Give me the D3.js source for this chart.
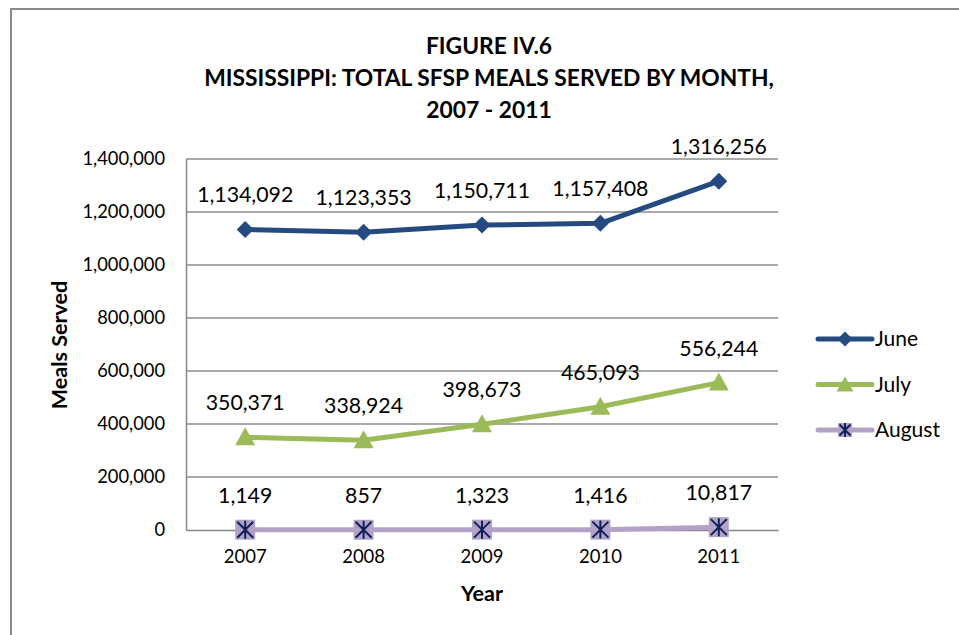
<!DOCTYPE html>
<html>
<head>
<meta charset="utf-8">
<script src="https://cdn.jsdelivr.net/npm/d3@7"></script>
<style>
  html, body { margin: 0; padding: 0; background: #fff; }
  svg { display: block; font-family: Lato, "Open Sans", sans-serif; }
</style>
</head>
<body>
<svg id="chart" width="959" height="635"></svg>
<script>
// Summer Food Service Program meals served in Mississippi
const years = ["2007", "2008", "2009", "2010", "2011"];
const juneMeals = [1134092, 1123353, 1150711, 1157408, 1316256];
const julyMeals = [350371, 338924, 398673, 465093, 556244];
const augustMeals = [1149, 857, 1323, 1416, 10817];
const yTicks = [0, 200000, 400000, 600000, 800000, 1000000, 1200000, 1400000];
const titleLines = ["FIGURE IV.6", "MISSISSIPPI: TOTAL SFSP MEALS SERVED BY MONTH,", "2007 - 2011"];

const series = [
  { name: "June", values: juneMeals, color: "#254A80", marker: "diamond" },
  { name: "July", values: julyMeals, color: "#9BBB59", marker: "triangle" },
  { name: "August", values: augustMeals, color: "#B3A2C7", marker: "asterisk" }
];

const svg = d3.select("#chart");
const fmt = d3.format(",");

// outer frame
svg.append("path")
  .attr("d", "M11,640 V9 H959")
  .attr("fill", "none")
  .attr("stroke", "#8a8a8a")
  .attr("stroke-width", 2);

// title
svg.append("g").selectAll("text").data(titleLines).join("text")
  .attr("x", 489)
  .attr("y", (d, i) => 54 + i * 32)
  .attr("text-anchor", "middle")
  .attr("font-size", 22.8)
  .attr("font-weight", "bold")
  .attr("fill", "#000")
  .text(d => d);

const plot = { left: 186, right: 778, top: 159, bottom: 530 };

const x = d3.scaleBand().domain(years).range([plot.left, plot.right]);
const y = d3.scaleLinear().domain([0, 1400000]).range([plot.bottom, plot.top]);
const cx = d => x(d) + x.bandwidth() / 2;

// gridlines
svg.append("g").selectAll("line").data(yTicks.filter(t => t > 0)).join("line")
  .attr("x1", plot.left).attr("x2", plot.right)
  .attr("y1", d => y(d)).attr("y2", d => y(d))
  .attr("stroke", "#8c8c8c").attr("stroke-width", 1.5);

// y axis
const yAxis = svg.append("g")
  .attr("transform", `translate(${plot.left},0)`)
  .call(d3.axisLeft(y).tickValues(yTicks).tickFormat(fmt).tickSize(0).tickPadding(21));
yAxis.select(".domain").attr("stroke", "#868686").attr("stroke-width", 1.5);
yAxis.selectAll("text").attr("font-size", 18.3).attr("fill", "#000").attr("font-family", "Lato, sans-serif");

// x axis
const xAxis = svg.append("g")
  .attr("transform", `translate(0,${plot.bottom})`)
  .call(d3.axisBottom(x).tickSize(0).tickPadding(20));
xAxis.select(".domain").attr("stroke", "#868686").attr("stroke-width", 1.5);
xAxis.selectAll("text").attr("font-size", 18.5).attr("fill", "#000").attr("font-family", "Lato, sans-serif");

// axis titles
svg.append("text")
  .attr("transform", "translate(67,345) rotate(-90)")
  .attr("text-anchor", "middle")
  .attr("font-size", 21.5).attr("font-weight", "bold")
  .text("Meals Served");
svg.append("text")
  .attr("x", 482).attr("y", 601)
  .attr("text-anchor", "middle")
  .attr("font-size", 21.5).attr("font-weight", "bold")
  .text("Year");

function drawMarker(g, type, color) {
  if (type === "diamond") {
    g.append("path").attr("d", "M0,-8.5 L8.5,0 L0,8.5 L-8.5,0 Z").attr("fill", color);
  } else if (type === "triangle") {
    g.append("path").attr("d", "M0,-10 L10,8 L-10,8 Z").attr("fill", color);
  } else {
    g.append("rect").attr("x", -10).attr("y", -10).attr("width", 20).attr("height", 20)
      .attr("fill", color);
    const s = 8;
    g.append("path")
      .attr("d", `M${-s},${-s} L${s},${s} M${-s},${s} L${s},${-s} M0,${-s - 1} V${s + 1}`)
      .attr("stroke", "#0F1F5C").attr("stroke-width", 2).attr("fill", "none");
  }
}

const line = d3.line().x((d, i) => cx(years[i])).y(d => y(d));

series.forEach(s => {
  const g = svg.append("g");
  g.append("path")
    .datum(s.values)
    .attr("d", line)
    .attr("fill", "none")
    .attr("stroke", s.color)
    .attr("stroke-width", 5)
    .attr("stroke-linejoin", "round");
  s.values.forEach((v, i) => {
    const m = g.append("g").attr("transform", `translate(${cx(years[i])},${y(v)})`);
    drawMarker(m, s.marker, s.color);
  });
  g.selectAll("text.val").data(s.values).join("text")
    .attr("class", "val")
    .attr("x", (d, i) => cx(years[i]))
    .attr("y", d => y(d) - 27)
    .attr("text-anchor", "middle")
    .attr("font-size", 21.3)
    .attr("fill", "#000")
    .text(d => fmt(d));
});

// legend
const legend = svg.append("g");
series.forEach((s, i) => {
  const ly = 339 + i * 45.5;
  const g = legend.append("g");
  g.append("line").attr("x1", 818).attr("x2", 872).attr("y1", ly).attr("y2", ly)
    .attr("stroke", s.color).attr("stroke-width", 5).attr("stroke-linecap", "round");
  const m = g.append("g").attr("transform", `translate(845,${ly})`);
  if (s.marker === "asterisk") {
    m.append("rect").attr("x", -7).attr("y", -7).attr("width", 14).attr("height", 14).attr("fill", s.color);
    m.append("path").attr("d", "M-5.5,-5.5 L5.5,5.5 M-5.5,5.5 L5.5,-5.5 M0,-7 V7")
      .attr("stroke", "#0F1F5C").attr("stroke-width", 2);
  } else if (s.marker === "diamond") {
    m.append("path").attr("d", "M0,-7.5 L7.5,0 L0,7.5 L-7.5,0 Z").attr("fill", s.color);
  } else {
    m.append("path").attr("d", "M0,-8 L8.5,7 L-8.5,7 Z").attr("fill", s.color);
  }
  g.append("text").attr("x", 875).attr("y", ly + 7)
    .attr("font-size", 21).attr("fill", "#000").text(s.name);
});
</script>
</body>
</html>
